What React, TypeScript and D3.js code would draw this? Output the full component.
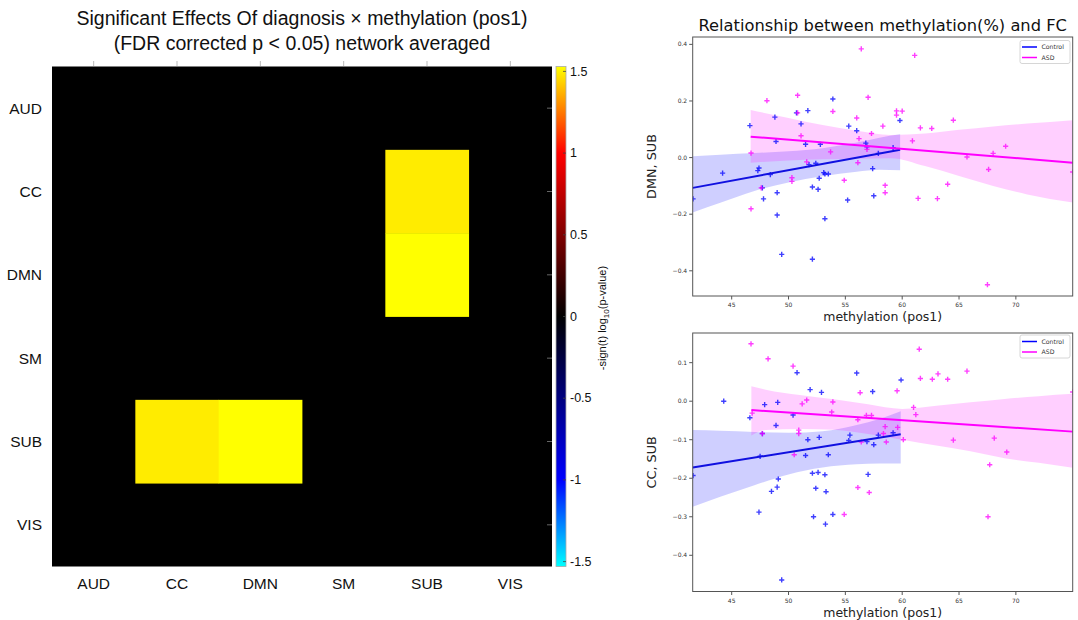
import * as d3 from "d3";

// ---- heatmap data ----
const networks = ["AUD", "CC", "DMN", "SM", "SUB", "VIS"];
// -sign(t) log10(p-value), rows x cols
const effectMatrix = [
  [0, 0, 0, 0, 0, 0],
  [0, 0, 0, 0, 1.49, 0],
  [0, 0, 0, 0, 1.53, 0],
  [0, 0, 0, 0, 0, 0],
  [0, 1.49, 1.53, 0, 0, 0],
  [0, 0, 0, 0, 0, 0],
];
const colorbarTicks = [1.5, 1, 0.5, 0, -0.5, -1, -1.5];
const colorLimit = 1.53;
const cmapStops = [-1.53, -1, -0.5, 0, 0.5, 1, 1.53];
const cmapColors = ["#00ffff", "#0000ff", "#00007f", "#000000", "#7f0000", "#ff0000", "#ffff00"];

// ---- scatter data (methylation %, FC) ----
const xTicks = [45, 50, 55, 60, 65, 70];
const dmnYTicks = [-0.4, -0.2, 0, 0.2, 0.4];
const ccYTicks = [-0.4, -0.3, -0.2, -0.1, 0, 0.1];

const dmnControl = [
  [41.6, -0.146], [44.2, -0.055], [46.6, 0.113], [47.3, -0.046], [47.4, -0.037], [47.7, -0.107],
  [47.8, -0.146], [48.4, -0.06], [48.8, 0.143], [48.9, 0.057], [49.0, -0.124], [49.0, -0.203],
  [49.4, -0.342], [50.7, 0.158], [51.1, 0.119], [51.5, 0.047], [51.7, 0.166], [51.8, -0.025],
  [52.1, -0.104], [52.1, -0.359], [52.4, -0.02], [52.6, -0.112], [52.7, -0.073], [52.8, 0.047],
  [53.1, -0.053], [53.2, -0.058], [53.2, -0.216], [53.5, -0.058], [53.9, 0.207], [55.2, -0.15],
  [55.3, 0.111], [56.0, 0.095], [56.8, 0.051], [56.9, 0.038], [57.4, -0.039], [57.5, -0.135],
  [57.9, 0.015], [59.2, 0.035], [59.8, 0.131],
];
const dmnAsd = [
  [46.7, 0.016], [46.7, -0.181], [47.6, -0.107], [48.1, 0.201], [50.3, -0.071], [50.3, -0.084],
  [50.8, 0.22], [50.8, 0.158], [51.1, 0.077], [51.6, -0.015], [53.7, 0.02], [53.9, 0.163],
  [54.9, -0.08], [56.0, 0.14], [56.1, -0.018], [56.2, 0.067], [56.4, 0.384], [56.9, 0.029],
  [57.0, 0.213], [57.3, 0.085], [58.3, 0.111], [58.5, -0.098], [58.5, -0.124], [59.5, 0.165],
  [59.5, 0.15], [60.0, 0.164], [60.9, 0.059], [61.1, 0.361], [61.4, -0.144], [61.6, 0.105],
  [62.6, 0.103], [63.1, -0.145], [64.0, -0.094], [64.5, 0.132], [65.7, 0.002], [67.5, -0.449],
  [67.6, -0.042], [68.0, 0.015], [69.1, 0.04], [75.0, -0.051],
];
const ccControl = [
  [41.6, -0.193], [44.3, 0.0], [46.6, -0.043], [47.4, -0.288], [47.5, -0.143], [47.7, -0.084],
  [47.9, -0.009], [48.5, -0.234], [48.9, -0.063], [49.0, -0.223], [49.05, -0.003], [49.1, -0.202],
  [49.4, -0.464], [50.4, -0.036], [50.75, 0.074], [51.5, -0.141], [51.7, -0.1], [51.9, 0.03],
  [52.1, -0.187], [52.2, -0.3], [52.4, -0.226], [52.6, -0.185], [52.7, -0.094], [52.9, 0.023],
  [53.2, -0.191], [53.25, -0.319], [53.3, -0.235], [53.5, -0.139], [53.9, -0.294], [55.3, -0.102],
  [55.4, -0.088], [56.0, 0.073], [56.9, -0.105], [57.0, -0.19], [57.4, 0.025], [57.5, -0.113],
  [57.9, -0.088], [59.2, -0.082], [59.9, 0.055],
];
const ccAsd = [
  [46.7, 0.149], [46.8, -0.031], [47.7, -0.084], [48.2, 0.11], [50.4, 0.091], [50.5, -0.139],
  [50.9, -0.084], [50.9, -0.075], [51.2, -0.007], [51.6, 0.003], [53.8, -0.028], [53.9, -0.002],
  [54.9, -0.294], [56.1, -0.224], [56.1, -0.048], [56.3, 0.022], [56.4, -0.106], [56.85, -0.037],
  [57.1, -0.237], [57.3, -0.037], [58.35, -0.084], [58.5, -0.066], [58.6, -0.106], [59.55, 0.027],
  [59.6, -0.068], [60.1, -0.1], [61.0, -0.016], [61.2, -0.035], [61.5, 0.135], [61.6, 0.059],
  [62.65, 0.057], [63.15, 0.071], [64.0, 0.057], [64.5, -0.101], [65.7, 0.078], [67.55, -0.3],
  [67.7, -0.165], [68.1, -0.096], [69.2, -0.132], [75.0, 0.024],
];

// regression fits (start, end)
const dmnControlFit = [[41.57, -0.107], [59.82, 0.028]];
const dmnAsdFit = [[46.67, 0.074], [75.0, -0.018]];
const ccControlFit = [[41.57, -0.172], [59.87, -0.086]];
const ccAsdFit = [[46.73, -0.023], [75.0, -0.079]];

// confidence bands: [x, lower, upper]
const dmnControlBand = [
  [41.57, -0.194, 0.005], [44, -0.16, 0.01], [47, -0.118, 0.016], [50, -0.088, 0.022],
  [53, -0.066, 0.033], [56, -0.05, 0.053], [58, -0.043, 0.07], [59.82, -0.045, 0.082],
];
const dmnAsdBand = [
  [46.67, -0.018, 0.168], [50, -0.01, 0.14], [53, -0.006, 0.115], [56, -0.004, 0.095],
  [59, -0.002, 0.08], [62, -0.03, 0.085], [65, -0.065, 0.098], [68, -0.1, 0.11],
  [71, -0.13, 0.12], [75, -0.159, 0.132],
];
const ccControlBand = [
  [41.57, -0.274, -0.075], [44, -0.248, -0.077], [47, -0.218, -0.08], [50, -0.19, -0.082],
  [53, -0.172, -0.078], [56, -0.164, -0.062], [58, -0.162, -0.046], [59.87, -0.162, -0.026],
];
const ccAsdBand = [
  [46.73, -0.089, 0.039], [48, -0.075, 0.03], [51, -0.072, 0.016], [54, -0.074, 0.005],
  [57, -0.085, -0.008], [60, -0.1, -0.02], [63, -0.115, -0.012], [66, -0.13, -0.003],
  [69, -0.148, 0.006], [72, -0.16, 0.013], [75, -0.173, 0.019],
];

const SANS = "'Liberation Sans', Arial, Helvetica, sans-serif";
const DEJAVU = "'DejaVu Sans', sans-serif";
const BLUE = "#0000ff";
const MAGENTA = "#ff00ff";

const Plus = ({ x, y, color }) => (
  <path d={`M${x - 2.6},${y}H${x + 2.6}M${x},${y - 2.6}V${y + 2.6}`} stroke={color} strokeWidth={1.4} opacity={0.75} />
);

const Scatter = ({ id, top, bottom, yDomain, yTicks, ylabel, control, asd, controlFit, asdFit, controlBand, asdBand, legendY }) => {
  const left = 692.7;
  const right = 1072.7;
  const x = d3.scaleLinear().domain([41.57, 75.0]).range([left, right]);
  const y = d3.scaleLinear().domain(yDomain).range([bottom, top]);
  const fmt = d3.format(".1f");
  const area = d3.area().x((d) => x(d[0])).y0((d) => y(d[1])).y1((d) => y(d[2])).curve(d3.curveMonotoneX);
  const line = d3.line().x((d) => x(d[0])).y((d) => y(d[1]));
  return (
    <g>
      <defs>
        <clipPath id={id}>
          <rect x={left} y={top} width={right - left} height={bottom - top} />
        </clipPath>
      </defs>
      <g clipPath={`url(#${id})`}>
        <path d={area(controlBand)} fill={BLUE} opacity={0.19} />
        <path d={area(asdBand)} fill={MAGENTA} opacity={0.19} />
        {control.map((d, i) => <Plus key={"c" + i} x={x(d[0])} y={y(d[1])} color={BLUE} />)}
        {asd.map((d, i) => <Plus key={"a" + i} x={x(d[0])} y={y(d[1])} color={MAGENTA} />)}
        <path d={line(controlFit)} stroke="#1010e0" strokeWidth={2} fill="none" />
        <path d={line(asdFit)} stroke={MAGENTA} strokeWidth={2} fill="none" />
      </g>
      <rect x={left} y={top} width={right - left} height={bottom - top} fill="none" stroke="#555" strokeWidth={1} />
      {xTicks.map((t) => (
        <g key={t}>
          <line x1={x(t)} x2={x(t)} y1={bottom} y2={bottom + 3.5} stroke="#555" />
          <text x={x(t)} y={bottom + 11} textAnchor="middle" fontSize={6} fontFamily={DEJAVU} fill="#333">{t}</text>
        </g>
      ))}
      {yTicks.map((t) => (
        <g key={t}>
          <line x1={left - 3.5} x2={left} y1={y(t)} y2={y(t)} stroke="#555" />
          <text x={left - 5.5} y={y(t) + 2.1} textAnchor="end" fontSize={6} fontFamily={DEJAVU} fill="#333">{fmt(t)}</text>
        </g>
      ))}
      <text transform={`translate(656,${(top + bottom) / 2}) rotate(-90)`} textAnchor="middle" fontSize={12.8} fontFamily={DEJAVU} fill="#222">{ylabel}</text>
      <text x={(left + right) / 2} y={bottom + 25} textAnchor="middle" fontSize={12.5} fontFamily={DEJAVU} fill="#222">methylation (pos1)</text>
      <g transform={`translate(1020,${legendY})`}>
        <rect x={0} y={0} width={50} height={23} rx={2} fill="#fff" stroke="#ccc" strokeWidth={0.8} />
        <line x1={2} x2={17} y1={6.5} y2={6.5} stroke={BLUE} strokeWidth={1.5} />
        <line x1={2} x2={17} y1={17} y2={17} stroke={MAGENTA} strokeWidth={1.5} />
        <text x={21.5} y={8.8} fontSize={6.2} fontFamily={DEJAVU} fill="#333">Control</text>
        <text x={21.5} y={19.3} fontSize={6.2} fontFamily={DEJAVU} fill="#333">ASD</text>
      </g>
    </g>
  );
};

const Heatmap = () => {
  const x = d3.scaleBand().domain(networks).range([52, 552]);
  const y = d3.scaleBand().domain(networks).range([66.5, 566.5]);
  const color = d3.scaleLinear().domain(cmapStops).range(cmapColors).interpolate(d3.interpolateRgb);
  const cb = d3.scaleLinear().domain([-colorLimit, colorLimit]).range([566.5, 66.5]);
  const gradStops = cmapStops
    .map((s, i) => ({ offset: (colorLimit - s) / (2 * colorLimit), color: cmapColors[i] }))
    .sort((a, b) => a.offset - b.offset);
  const cells = [];
  effectMatrix.forEach((row, i) => row.forEach((v, j) => { if (v !== 0) cells.push({ i, j, v }); }));
  return (
    <g>
      <defs>
        <linearGradient id="cbar" x1="0" y1="0" x2="0" y2="1">
          {gradStops.map((s) => (
            <stop key={s.offset} offset={s.offset} stopColor={s.color} />
          ))}
        </linearGradient>
      </defs>
      <text x={302} y={25} textAnchor="middle" fontSize={19.5} fontFamily={SANS} fill="#111">
        Significant Effects Of diagnosis × methylation (pos1)
      </text>
      <text x={302} y={50} textAnchor="middle" fontSize={19.5} fontFamily={SANS} fill="#111">
        (FDR corrected p &lt; 0.05) network averaged
      </text>
      <rect x={52} y={66.5} width={500} height={500} fill={color(0)} />
      {cells.map((c) => (
        <rect key={c.i + "-" + c.j} x={x(networks[c.j])} y={y(networks[c.i])} width={x.bandwidth() + 0.4} height={y.bandwidth() + 0.4} fill={color(c.v)} />
      ))}
      {networks.map((n) => (
        <g key={n}>
          <line x1={x(n) + x.bandwidth() / 2} x2={x(n) + x.bandwidth() / 2} y1={61} y2={66} stroke="#bbb" />
          <line x1={547} x2={552} y1={y(n) + y.bandwidth() / 2} y2={y(n) + y.bandwidth() / 2} stroke="#666" />
          <text x={42} y={y(n) + y.bandwidth() / 2 + 5.5} textAnchor="end" fontSize={15.5} fontFamily={SANS} fill="#111">{n}</text>
          <text x={x(n) + x.bandwidth() / 2} y={589} textAnchor="middle" fontSize={15.5} fontFamily={SANS} fill="#111">{n}</text>
        </g>
      ))}
      <rect x={556} y={66.5} width={10} height={500} fill="url(#cbar)" stroke="#aaa" strokeWidth={0.8} />
      {colorbarTicks.map((t) => (
        <g key={t}>
          <line x1={563} x2={566} y1={cb(t)} y2={cb(t)} stroke="#444" strokeWidth={0.8} />
          <text x={570} y={cb(t) + 4.3} fontSize={12.5} fontFamily={SANS} fill="#111">{t}</text>
        </g>
      ))}
      <text transform="translate(606,318) rotate(-90)" textAnchor="middle" fontSize={11} fontFamily={SANS} fill="#111">
        -sign(t) log<tspan fontSize={8} dy={3}>10</tspan><tspan dy={-3}>(p-value)</tspan>
      </text>
    </g>
  );
};

export default function App() {
  return (
    <svg width={1078} height={620} style={{ position: "absolute", left: 0, top: 0, background: "#fff" }}>
      <Heatmap />
      <text x={882.7} y={31} textAnchor="middle" fontSize={16.3} fontFamily={DEJAVU} fill="#111">
        Relationship between methylation(%) and FC
      </text>
      <Scatter id="clipTop" top={37} bottom={296} yDomain={[-0.489, 0.426]} yTicks={dmnYTicks} ylabel="DMN, SUB"
        control={dmnControl} asd={dmnAsd} controlFit={dmnControlFit} asdFit={dmnAsdFit}
        controlBand={dmnControlBand} asdBand={dmnAsdBand} legendY={40.5} />
      <Scatter id="clipBottom" top={333} bottom={591.5} yDomain={[-0.494, 0.177]} yTicks={ccYTicks} ylabel="CC, SUB"
        control={ccControl} asd={ccAsd} controlFit={ccControlFit} asdFit={ccAsdFit}
        controlBand={ccControlBand} asdBand={ccAsdBand} legendY={335} />
    </svg>
  );
}
